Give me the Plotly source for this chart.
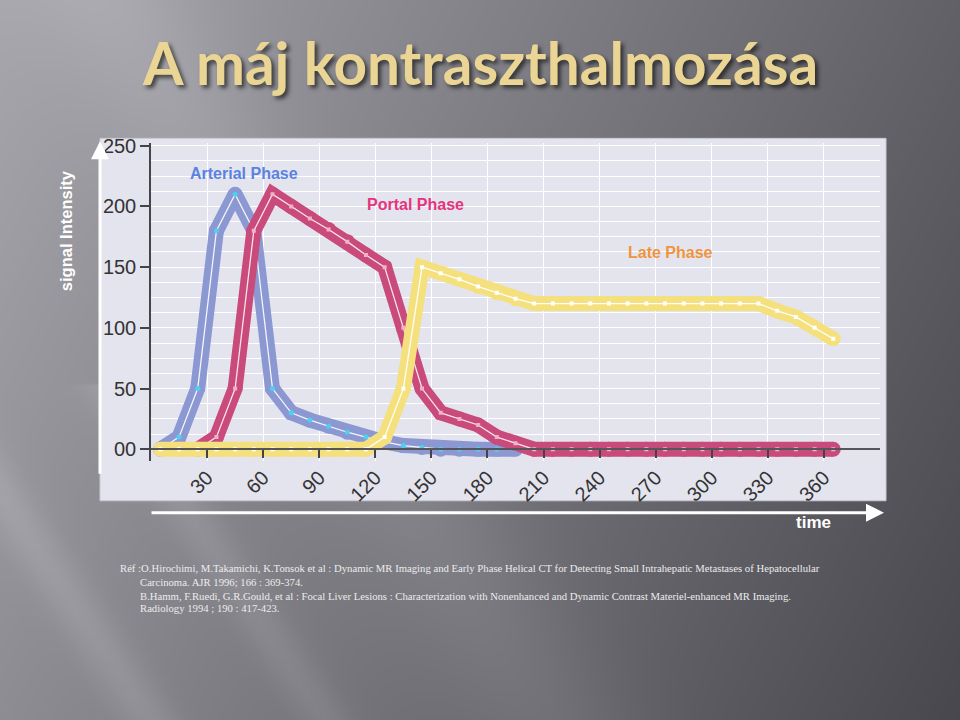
import base64, struct, zlib
import numpy as np
import plotly.graph_objects as go

# ---------------- data ----------------
time_arterial = [5, 15, 25, 35, 45, 55, 65, 75, 85, 95, 105, 115, 125, 135, 145, 155, 165, 175, 185, 195]
signal_arterial = [0, 10, 50, 180, 210, 180, 50, 30, 24, 19, 14, 10, 6, 3, 1.5, 0, 0, 0, 0, 0]

time_portal = [25, 35, 45, 55, 65, 75, 85, 95, 105, 115, 125, 135, 145, 155, 165, 175, 185, 195,
               205, 215, 225, 235, 245, 255, 265, 275, 285, 295, 305, 315, 325, 335, 345, 355, 365]
signal_portal = [0, 10, 50, 180, 210, 200, 190, 181, 171, 160, 150, 100, 50, 30, 25, 20, 10, 5,
                 0, 0, 0, 0, 0, 0, 0, 0, 0, 0, 0, 0, 0, 0, 0, 0, 0]

time_late = [5, 15, 25, 35, 45, 55, 65, 75, 85, 95, 105, 115, 125, 135, 145, 155, 165, 175, 185,
             195, 205, 215, 225, 235, 245, 255, 265, 275, 285, 295, 305, 315, 325, 335, 345, 355, 365]
signal_late = [0, 0, 0, 0, 0, 0, 0, 0, 0, 0, 0, 0, 10, 50, 150, 145, 140, 134, 129,
               124, 120, 120, 120, 120, 120, 120, 120, 120, 120, 120, 120, 120, 120, 114, 109, 100, 91]

x_tickvals = [30, 60, 90, 120, 150, 180, 210, 240, 270, 300, 330, 360]
y_tickvals = [0, 50, 100, 150, 200, 250]
y_ticktext = ["00", "50", "100", "150", "200", "250"]

title_text = "A máj kontraszthalmozása"
ref_lines = [
    "Réf :O.Hirochimi, M.Takamichi, K.Tonsok et al : Dynamic MR Imaging and Early Phase Helical CT for Detecting Small Intrahepatic Metastases of Hepatocellular",
    "Carcinoma. AJR 1996; 166 : 369-374.",
    "B.Hamm, F.Ruedi, G.R.Gould, et al : Focal Liver Lesions : Characterization with Nonenhanced and Dynamic Contrast Materiel-enhanced MR Imaging.",
    "Radiology 1994 ; 190 : 417-423.",
]

# ---------------- background image (slide gradient) ----------------
# image covers screen rectangle x in [-40, 1000], y in [-40, 760]
W, H = 260, 200
xs = -40 + (np.arange(W) + 0.5) * 4.0
ys = -40 + (np.arange(H) + 0.5) * 4.0
X, Y = np.meshgrid(xs, ys)
v = 168 - 0.072 * X - 0.035 * Y
v += 12 * np.exp(-((X - (120 + 0.6 * Y)) / 90.0) ** 2)
v += 14 * np.exp(-((X - (-318 + 0.65 * Y)) / 30.0) ** 2) * (Y > 380)
v += 12 * np.exp(-((X - (-142 + 0.65 * Y)) / 28.0) ** 2) * (Y > 380)
img = np.stack([v - 2, v - 2, v + 4], axis=-1).clip(0, 255).astype(np.uint8)
raw = b"".join(b"\x00" + img[r].tobytes() for r in range(H))


def _chunk(t, d):
    return struct.pack(">I", len(d)) + t + d + struct.pack(">I", zlib.crc32(t + d) & 0xFFFFFFFF)


png = (b"\x89PNG\r\n\x1a\n" + _chunk(b"IHDR", struct.pack(">IIBBBBB", W, H, 8, 2, 0, 0, 0))
       + _chunk(b"IDAT", zlib.compress(raw, 9)) + _chunk(b"IEND", b""))
bg_uri = "data:image/png;base64," + base64.b64encode(png).decode()

# ---------------- figure ----------------
FW, FH = 960, 720
def px(xp):
    return xp / FW
def py(yp):
    return 1 - yp / FH

fig = go.Figure()

series = [
    (time_arterial, signal_arterial, "#8b98d2", "rgba(255,255,255,0.9)", "#4fd0f2", "circle", 5),
    (time_portal, signal_portal, "#c94b7b", "rgba(255,235,240,0.95)", "#efb3c8", "square", 4),
    (time_late, signal_late, "#f5e07e", "rgba(255,255,255,0.95)", "#ffffff", "square", 4),
]
for t, s, band, thin, mk, sym, msz in series:
    fig.add_trace(go.Scatter(x=t, y=s, mode="lines+markers",
                             line=dict(color=band, width=15),
                             marker=dict(color=band, size=15, line=dict(width=0)),
                             hoverinfo="skip", showlegend=False))
    fig.add_trace(go.Scatter(x=t, y=s, mode="lines+markers",
                             line=dict(color=thin, width=1.3),
                             marker=dict(color=mk, size=msz, symbol=sym, line=dict(width=0)),
                             showlegend=False))

x0_px, x1_px = 151, 880
y_zero_px = 446
fig.update_layout(
    width=FW, height=FH,
    margin=dict(l=0, r=0, t=0, b=0),
    paper_bgcolor="#8a898f",
    plot_bgcolor="#e3e3ed",
    images=[dict(source=bg_uri, xref="paper", yref="paper", x=px(-40), y=py(-40),
                 sizex=1040 / FW, sizey=800 / FH,
                 sizing="stretch", layer="below", xanchor="left", yanchor="top")],
    shapes=[dict(type="rect", xref="paper", yref="paper",
                 x0=px(100), x1=px(886), y0=py(498), y1=py(131),
                 fillcolor="#e4e4ee", line=dict(color="#c9c9d2", width=1), layer="below")],
    xaxis=dict(
        domain=[px(x0_px), px(x1_px)], range=[0, 390],
        anchor="free", position=py(y_zero_px),
        tickmode="array", tickvals=x_tickvals, tickangle=-45,
        tickfont=dict(family="Liberation Sans, Arial", size=20, color="#333333"),
        ticks="outside", ticklen=8, tickwidth=1.5, tickcolor="#444444",
        showline=True, linecolor="#55555c", linewidth=1.5,
        showgrid=True, gridcolor="#ffffff", gridwidth=1,
        minor=dict(dtick=30, tick0=0, showgrid=True, gridcolor="#ffffff", gridwidth=1),
        zeroline=False, fixedrange=True,
    ),
    yaxis=dict(
        domain=[py(457.5), py(136)], range=[-9.5, 252],
        tickmode="array", tickvals=y_tickvals, ticktext=y_ticktext,
        tickfont=dict(family="Liberation Sans, Arial", size=20, color="#333333"),
        ticks="outside", ticklen=9, tickwidth=1.5, tickcolor="#444444",
        showline=True, linecolor="#44444a", linewidth=1.5,
        showgrid=True, gridcolor="#ffffff", gridwidth=1,
        minor=dict(dtick=12.5, tick0=0, showgrid=True, gridcolor="#ffffff", gridwidth=1),
        zeroline=False, fixedrange=True,
    ),
)

ann = []
ann.append(dict(text=title_text, xref="paper", yref="paper", x=px(480), y=py(54),
                xanchor="center", yanchor="middle", showarrow=False,
                font=dict(family="Lato, Liberation Sans, Arial", size=58.5,
                          color="#ead595", weight="bold",
                          shadow="3px 3px 4px rgba(0,0,0,0.6)")))
ann.append(dict(text="Arterial Phase", x=50, y=227, xref="x", yref="y", showarrow=False,
                font=dict(family="Liberation Sans, Arial", size=16, color="#5a82e2", weight="bold")))
ann.append(dict(text="Portal Phase", x=141.5, y=202, xref="x", yref="y", showarrow=False,
                font=dict(family="Liberation Sans, Arial", size=16, color="#e6337e", weight="bold")))
ann.append(dict(text="Late Phase", x=278, y=162, xref="x", yref="y", showarrow=False,
                font=dict(family="Liberation Sans, Arial", size=16, color="#ef943c", weight="bold")))
ann.append(dict(text="signal Intensity", xref="paper", yref="paper", x=px(66), y=py(225),
                textangle=-90, showarrow=False, xanchor="center", yanchor="middle",
                font=dict(family="Liberation Sans, Arial", size=16.5, color="#ffffff", weight="bold")))
ann.append(dict(text="time", xref="paper", yref="paper", x=px(813), y=py(520),
                showarrow=False, xanchor="center", yanchor="middle",
                font=dict(family="Liberation Sans, Arial", size=17,
                          color="#ffffff", weight="bold")))
# arrows
ann.append(dict(text="", xref="paper", yref="paper", x=px(100), y=py(134), ax=0, ay=334,
                showarrow=True, arrowhead=2, arrowsize=1.2, arrowwidth=3, arrowcolor="#ffffff"))
ann.append(dict(text="", xref="paper", yref="paper", x=px(884), y=py(510), ax=-734, ay=0,
                showarrow=True, arrowhead=2, arrowsize=1.2, arrowwidth=3, arrowcolor="#ffffff"))
# references
ref_pos = [(118, 566), (138, 580), (138, 594), (138, 607)]
for (xx, yy), line in zip(ref_pos, ref_lines):
    ann.append(dict(text=line, xref="paper", yref="paper", x=px(xx), y=py(yy),
                    xanchor="left", yanchor="middle", showarrow=False,
                    font=dict(family="Liberation Serif, Times New Roman", size=10.7, color="#ececec")))
fig.update_layout(annotations=ann)

fig.write_html("out.html", config={"displayModeBar": False})
